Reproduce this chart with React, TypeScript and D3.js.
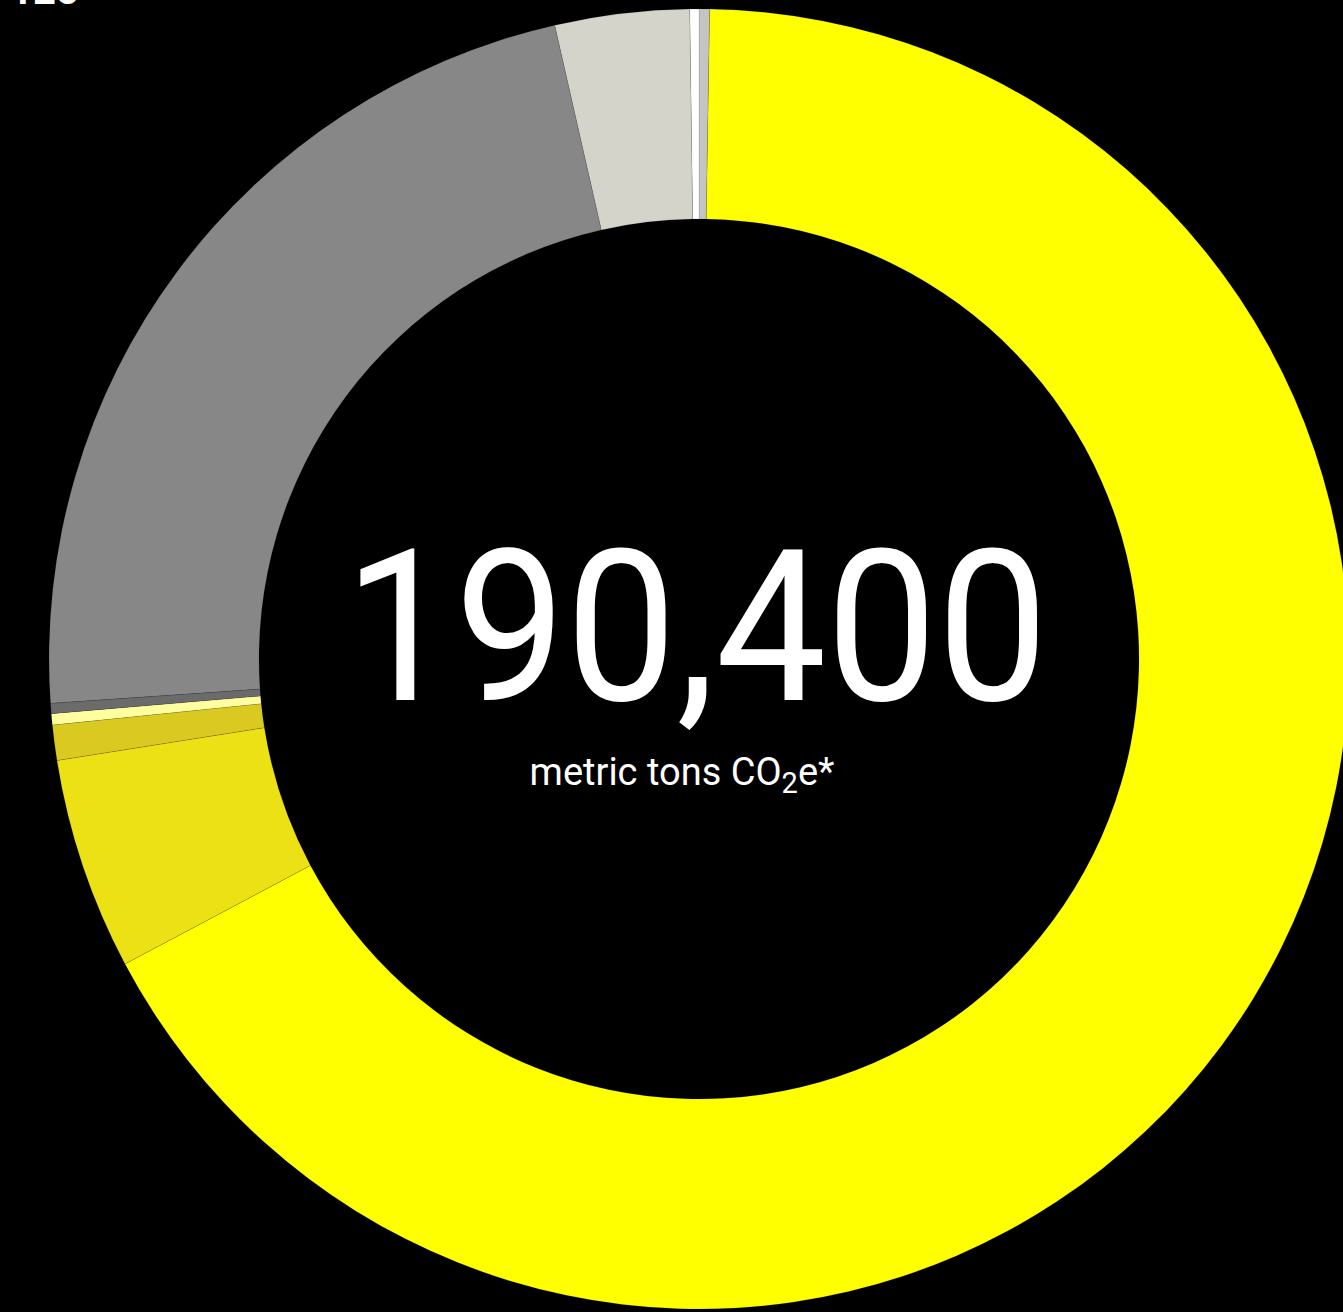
import React, { useEffect } from "react";
import * as d3 from "d3";

const categories = [
  "Category A",
  "Category B",
  "Category C",
  "Category D",
  "Category E",
  "Category F",
  "Category G",
  "Category H",
  "Category I",
];
const values = [500, 127500, 10050, 1670, 530, 480, 42890, 6350, 430];
const colors = [
  "#c4c4c4",
  "#ffff00",
  "#ece114",
  "#d9c921",
  "#ffffa0",
  "#6b6b6b",
  "#878787",
  "#d4d4cb",
  "#ffffff",
];
const totalLabel = "190,400";
const unitMain = "metric tons CO";
const unitSub = "2";
const unitEnd = "e*";
const cornerLabel = "125";

const W = 1343;
const H = 1312;
const cx = 699;
const cy = 659;
const R = 650;
const r = 440;

export default function App() {
  useEffect(() => {
    document.body.style.margin = "0";
    document.body.style.background = "#000";
  }, []);

  const data = categories.map((c, i) => ({ c, v: values[i], col: colors[i] }));
  const pie = d3
    .pie<any>()
    .sort(null)
    .value((d: any) => d.v);
  const arc = d3.arc<any>().innerRadius(r).outerRadius(R);
  const arcs = pie(data);

  return (
    <svg width={W} height={H} style={{ display: "block", background: "#000" }}>
      <rect x={0} y={0} width={W} height={H} fill="#000" />
      <text
        x={10}
        y={4}
        fill="#fff"
        fontFamily="Roboto, sans-serif"
        fontWeight={700}
        fontSize={40}
      >
        {cornerLabel}
      </text>
      <g transform={`translate(${cx},${cy})`}>
        {arcs.map((a, i) => (
          <path
            key={i}
            d={arc(a) as string}
            fill={a.data.col}
            stroke="rgba(0,0,0,0.18)"
            strokeWidth={0.6}
          />
        ))}
        <text
          x={-3}
          y={41}
          textAnchor="middle"
          fill="#fff"
          fontFamily="Roboto, sans-serif"
          fontWeight={400}
          fontSize={212}
          textLength={704}
          lengthAdjust="spacingAndGlyphs"
        >
          {totalLabel}
        </text>
        <text
          x={-17}
          y={126}
          textAnchor="middle"
          fill="#fff"
          fontFamily="Roboto, sans-serif"
          fontWeight={400}
          fontSize={38}
        >
          {unitMain}
          <tspan fontSize={29} dy={8}>
            {unitSub}
          </tspan>
          <tspan dy={-8}>{unitEnd}</tspan>
        </text>
      </g>
    </svg>
  );
}
